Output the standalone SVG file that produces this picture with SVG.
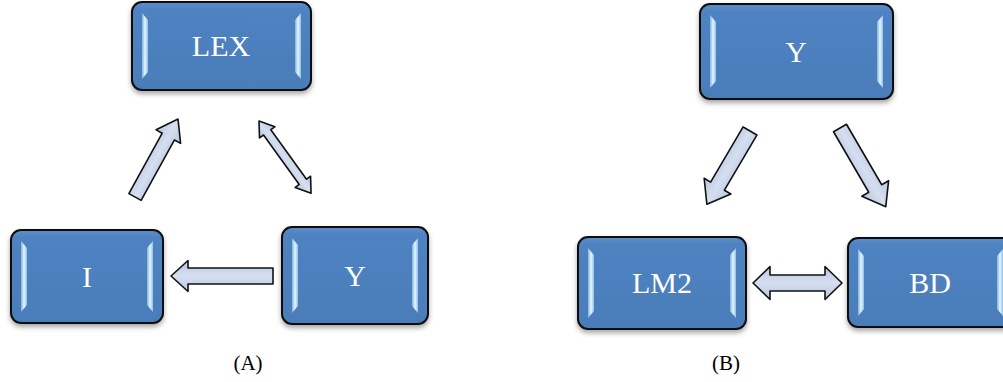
<svg xmlns="http://www.w3.org/2000/svg" width="1003" height="382" viewBox="0 0 1003 382">
<defs>
<linearGradient id="boxg" x1="0" y1="0" x2="0" y2="1">
<stop offset="0" stop-color="#5C8ECA"/>
<stop offset="0.08" stop-color="#4F82C0"/>
<stop offset="1" stop-color="#4A7DBA"/>
</linearGradient>
<linearGradient id="bevL" x1="0" y1="0" x2="1" y2="0">
<stop offset="0" stop-color="#7FB0DE"/>
<stop offset="0.5" stop-color="#E6F6FF"/>
<stop offset="1" stop-color="#8FC0EA"/>
</linearGradient>
<linearGradient id="arrg" x1="0" y1="0" x2="0" y2="1">
<stop offset="0" stop-color="#B9C7E2"/>
<stop offset="0.5" stop-color="#D6DFF0"/>
<stop offset="1" stop-color="#B7C4DF"/>
</linearGradient>
<filter id="sh" x="-10%" y="-10%" width="120%" height="130%">
<feDropShadow dx="0" dy="3" stdDeviation="2.5" flood-color="#000" flood-opacity="0.35"/>
</filter>
</defs>
<style>
.box{fill:url(#boxg);stroke:#111;stroke-width:2;filter:url(#sh)}
.bev{fill:url(#bevL)}
.lbl{font-family:"Liberation Serif","Times New Roman",serif;font-size:30px;fill:#fff;text-anchor:middle}
.cap{font-family:"Liberation Serif","Times New Roman",serif;font-size:21px;fill:#000;text-anchor:middle}
.arr{fill:url(#arrg);stroke:#111;stroke-width:1.6;stroke-linejoin:round}
</style>
<rect width="1003" height="382" fill="#fff"/>

<g id="node-lex">
<rect class="box" x="132" y="2" width="179" height="88" rx="10"/>
<path class="bev" d="M142,13 L148,20 L148,72 L142,79 Z"/>
<path class="bev" d="M301,13 L295,20 L295,72 L301,79 Z"/>
<text class="lbl" x="221" y="56">LEX</text>
</g>

<g id="node-i">
<rect class="box" x="11" y="230" width="152" height="93" rx="10"/>
<path class="bev" d="M21,241 L27,248 L27,305 L21,312 Z"/>
<path class="bev" d="M153,241 L147,248 L147,305 L153,312 Z"/>
<text class="lbl" x="87" y="287">I</text>
</g>

<g id="node-ya">
<rect class="box" x="282" y="227" width="146" height="97" rx="10"/>
<path class="bev" d="M292,238 L298,245 L298,306 L292,313 Z"/>
<path class="bev" d="M418,238 L412,245 L412,306 L418,313 Z"/>
<text class="lbl" x="355" y="286">Y</text>
</g>

<g id="node-yb">
<rect class="box" x="700" y="4" width="193" height="95" rx="10"/>
<path class="bev" d="M710,15 L716,22 L716,81 L710,88 Z"/>
<path class="bev" d="M883,15 L877,22 L877,81 L883,88 Z"/>
<text class="lbl" x="796" y="62">Y</text>
</g>

<g id="node-lm2">
<rect class="box" x="578" y="237" width="168" height="92" rx="10"/>
<path class="bev" d="M588,248 L594,255 L594,311 L588,318 Z"/>
<path class="bev" d="M736,248 L730,255 L730,311 L736,318 Z"/>
<text class="lbl" x="662" y="293">LM2</text>
</g>

<g id="node-bd">
<rect class="box" x="848" y="238" width="165" height="89" rx="10"/>
<path class="bev" d="M858,249 L864,256 L864,309 L858,316 Z"/>
<path class="bev" d="M1003,249 L997,256 L997,309 L1003,316 Z"/>
<text class="lbl" x="930" y="293">BD</text>
</g>

<g id="connectors">
<polygon class="arr" transform="translate(135,197) rotate(-61.1)" points="0,-7 69,-7 69,-14 89,0 69,14 69,7 0,7"/>
<polygon class="arr" transform="translate(259,121) rotate(54.2)" points="0,0 14,-9.5 14,-4.5 75,-4.5 75,-9.5 89,0 75,9.5 75,4.5 14,4.5 14,9.5"/>
<polygon class="arr" transform="translate(273,276) rotate(180)" points="0,-8 85,-8 85,-15.5 102,0 85,15.5 85,8 0,8"/>
<polygon class="arr" transform="translate(750,131) rotate(120.5)" points="0,-8 64,-8 64,-15.5 85,0 64,15.5 64,8 0,8"/>
<polygon class="arr" transform="translate(840,128) rotate(59.8)" points="0,-7.5 70,-7.5 70,-15.5 91,0 70,15.5 70,7.5 0,7.5"/>
<polygon class="arr" transform="translate(753,283)" points="0,0 17,-16.5 17,-8 72,-8 72,-16.5 89,0 72,16.5 72,8 17,8 17,16.5"/>
</g>

<text class="cap" x="248" y="370">(A)</text>
<text class="cap" x="726" y="370">(B)</text>
</svg>
